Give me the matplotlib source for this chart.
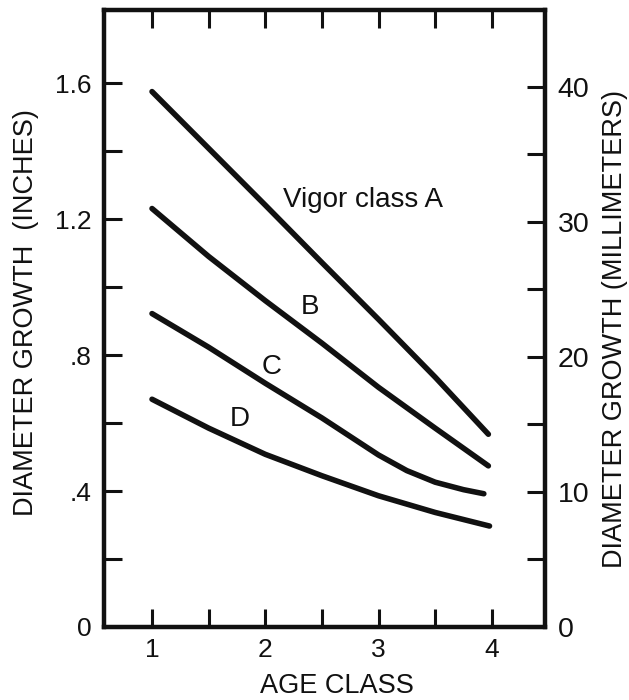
import matplotlib
matplotlib.use("Agg")
import matplotlib.pyplot as plt
import numpy as np

plt.rcParams['font.family'] = ['Liberation Sans', 'DejaVu Sans']

# Data (age class vs diameter growth, inches)
age_a = [1.0, 1.5, 2.0, 2.5, 3.0, 3.5, 3.97]
growth_a = [1.575, 1.408, 1.241, 1.072, 0.905, 0.735, 0.567]

age_b = [1.0, 1.5, 2.0, 2.5, 3.0, 3.5, 3.97]
growth_b = [1.231, 1.090, 0.960, 0.835, 0.705, 0.585, 0.474]

age_c = [1.0, 1.5, 2.0, 2.5, 3.0, 3.25, 3.5, 3.75, 3.93]
growth_c = [0.922, 0.823, 0.717, 0.615, 0.506, 0.460, 0.426, 0.404, 0.392]

age_d = [1.0, 1.5, 2.0, 2.5, 3.0, 3.5, 3.98]
growth_d = [0.670, 0.585, 0.508, 0.445, 0.386, 0.337, 0.297]

curve_labels = ["Vigor class A", "B", "C", "D"]
label_pos = [(2.156, 1.256), (2.395, 0.94), (2.056, 0.766), (1.777, 0.611)]

x_major = [1, 2, 3, 4]
x_minor = [1.5, 2.5, 3.5]
y_major = [0, 0.4, 0.8, 1.2, 1.6]
y_major_labels = ["0", ".4", ".8", "1.2", "1.6"]
y_minor = [0.2, 0.6, 1.0, 1.4]
mm_major = [0, 10, 20, 30, 40]
mm_minor = [5, 15, 25, 35]

fig = plt.figure(figsize=(6.29, 7.0), dpi=100)
ax = fig.add_axes([104 / 629, 1 - 627 / 700, 441 / 629, 617 / 700])

lw = 4.0
for xs, ys in [(age_a, growth_a), (age_b, growth_b), (age_c, growth_c), (age_d, growth_d)]:
    ax.plot(xs, ys, color='#111111', lw=lw, solid_capstyle='round', solid_joinstyle='round')

for (lbl, (x, y)) in zip(curve_labels, label_pos):
    ha = 'left' if lbl.startswith('Vigor') else 'center'
    ax.text(x, y, lbl, fontsize=20, ha=ha, va='center', color='#111111')

ax.set_xlim(0.576, 4.47)
ax.set_ylim(0, 1.815)

for s in ax.spines.values():
    s.set_linewidth(3.2)
    s.set_color('#111111')

ax.set_xticks(x_major)
ax.set_xticklabels([str(v) for v in x_major])
ax.set_xticks(x_minor, minor=True)
ax.set_yticks(y_major)
ax.set_yticklabels(y_major_labels)
ax.set_yticks(y_minor, minor=True)

ax.tick_params(axis='both', which='both', direction='in', length=13, width=2.2,
               color='#111111', labelsize=19, labelcolor='#111111')
ax.tick_params(axis='x', which='both', top=True, pad=8)
ax.tick_params(axis='y', which='both', left=True, right=False, pad=9)

ax2 = ax.twinx()
ax2.set_ylim(0, 45.7)
ax2.set_yticks(mm_major)
ax2.set_yticklabels([str(v) for v in mm_major])
ax2.set_yticks(mm_minor, minor=True)
ax2.tick_params(axis='y', which='both', direction='in', length=13, width=2.2,
                color='#111111', labelsize=20.5, labelcolor='#111111', pad=9)
for s in ax2.spines.values():
    s.set_visible(False)

ax.set_xlabel("AGE CLASS", fontsize=19.5, color='#111111')
ax.xaxis.set_label_coords((337 - 104) / 441, -(686 - 627) / 617)
ax.xaxis.label.set_va('center')

ax.set_ylabel("DIAMETER GROWTH  (INCHES)", fontsize=19.5, color='#111111')
ax.yaxis.set_label_coords((26 - 104) / 441, (627 - 313) / 617)
ax.yaxis.label.set_va('center')

ax2.set_ylabel("DIAMETER GROWTH (MILLIMETERS)", fontsize=19.5, color='#111111')
ax2.yaxis.set_label_coords((615 - 104) / 441, (627 - 329) / 617)
ax2.yaxis.label.set_va('center')

fig.savefig("out.png", dpi=100)
